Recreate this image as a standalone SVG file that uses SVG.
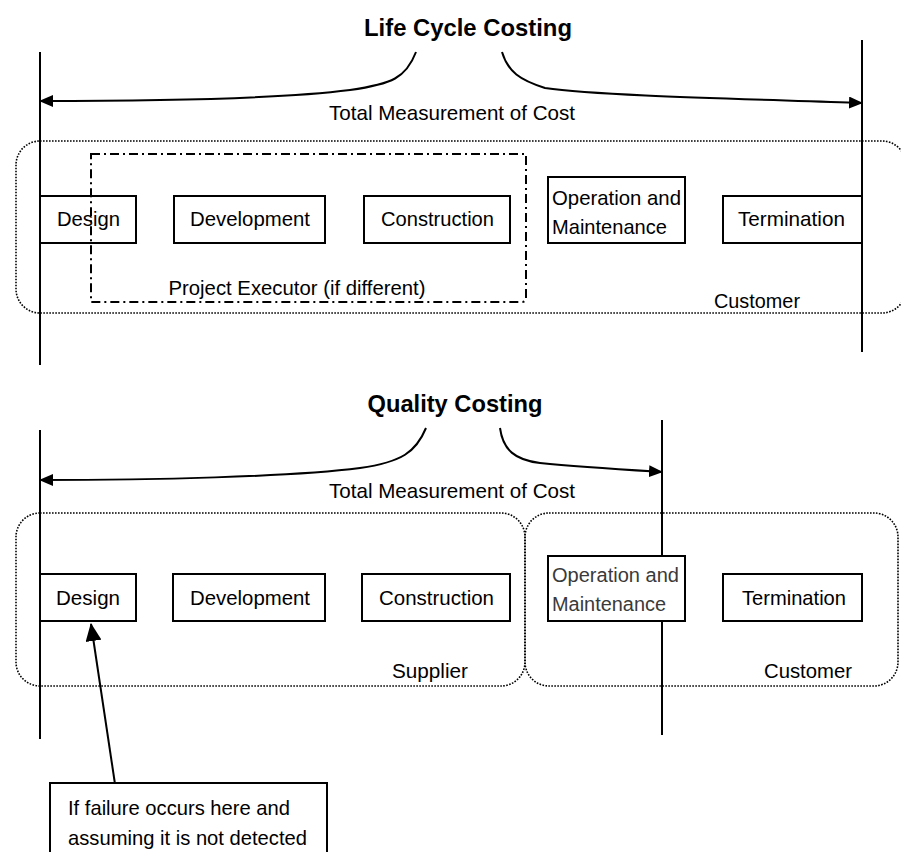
<svg xmlns="http://www.w3.org/2000/svg" width="901" height="852" viewBox="0 0 901 852">
<defs>
<marker id="ah" viewBox="0 0 14 12" refX="13" refY="6" markerWidth="14" markerHeight="12" markerUnits="userSpaceOnUse" orient="auto">
<path d="M0,0 L14,6 L0,12 z" fill="#000"/>
</marker>
<marker id="ah2" viewBox="0 0 18 16" refX="17" refY="8" markerWidth="18" markerHeight="16" markerUnits="userSpaceOnUse" orient="auto">
<path d="M0,0 L18,8 L0,16 z" fill="#000"/>
</marker>
</defs>
<style>
text{font-family:"Liberation Sans Narrow","Liberation Sans",Arial,sans-serif;fill:#000;}
.t{font-size:21px;}
.h{font-size:24px;font-weight:bold;}
.box{fill:#fff;stroke:#000;stroke-width:2;}
.dot{fill:none;stroke:#000;stroke-width:1.6;stroke-dasharray:1.6 1.4;}
.dd{fill:none;stroke:#000;stroke-width:2;stroke-dasharray:9 4 2 4;}
.ln{fill:none;stroke:#000;stroke-width:2;}
.gray{fill:#3a3a3a;font-family:"Liberation Sans",Arial,sans-serif;font-size:20px;}
</style>
<rect width="901" height="852" fill="#fff"/>

<!-- group containers -->
<g id="customer-lcc"><rect class="dot" x="16" y="141" width="890" height="172" rx="24"/>
<text class="t" x="757" y="308" text-anchor="middle" textLength="86" lengthAdjust="spacingAndGlyphs">Customer</text></g>
<g id="supplier-qc"><rect class="dot" x="16" y="513" width="509" height="173" rx="24"/>
<text class="t" x="430" y="678" text-anchor="middle" textLength="76" lengthAdjust="spacingAndGlyphs">Supplier</text></g>
<g id="customer-qc"><rect class="dot" x="525" y="513" width="373" height="173" rx="24"/>
<text class="t" x="808" y="678" text-anchor="middle" textLength="88" lengthAdjust="spacingAndGlyphs">Customer</text></g>

<g id="connectors">
<line class="ln" x1="40" y1="52" x2="40" y2="365"/>
<line class="ln" x1="862" y1="40" x2="862" y2="352"/>
<path class="ln" d="M416,52 C406,78 392,84 350,90 C280,99 150,101 40,101" marker-end="url(#ah)"/>
<path class="ln" d="M502,52 C508,72 520,80 545,88 C600,96 750,99 862,103" marker-end="url(#ah)"/>
<line class="ln" x1="40" y1="430" x2="40" y2="739"/>
<line class="ln" x1="662" y1="420" x2="662" y2="735"/>
<path class="ln" d="M426,428 C416,452 402,462 360,468 C290,477 150,480 40,480" marker-end="url(#ah)"/>
<path class="ln" d="M500,428 C503,450 515,460 540,463 C580,467 630,470 662,472" marker-end="url(#ah)"/>
<line class="ln" x1="115" y1="784" x2="91" y2="624" marker-end="url(#ah2)"/>
</g>

<g id="title-lcc"><text class="h" x="468" y="36" text-anchor="middle" textLength="208" lengthAdjust="spacingAndGlyphs">Life Cycle Costing</text></g>
<g id="label-total-1"><text class="t" x="452" y="120" text-anchor="middle" textLength="246" lengthAdjust="spacingAndGlyphs">Total Measurement of Cost</text></g>

<g id="design-1"><rect class="box" x="40" y="196" width="96" height="47"/>
<text class="t" x="88.5" y="226" text-anchor="middle" textLength="63" lengthAdjust="spacingAndGlyphs">Design</text></g>
<g id="development-1"><rect class="box" x="174" y="196" width="151" height="47"/>
<text class="t" x="250" y="226" text-anchor="middle" textLength="120" lengthAdjust="spacingAndGlyphs">Development</text></g>
<g id="construction-1"><rect class="box" x="364" y="196" width="146" height="47"/>
<text class="t" x="437.5" y="226" text-anchor="middle" textLength="113" lengthAdjust="spacingAndGlyphs">Construction</text></g>
<g id="operation-1"><rect class="box" x="548" y="177" width="137" height="66"/>
<text class="t" x="552" y="205" textLength="129" lengthAdjust="spacingAndGlyphs">Operation and</text>
<text class="t" x="552" y="234" textLength="115" lengthAdjust="spacingAndGlyphs">Maintenance</text></g>
<g id="termination-1"><rect class="box" x="723" y="196" width="139" height="47"/>
<text class="t" x="791.5" y="226" text-anchor="middle" textLength="107" lengthAdjust="spacingAndGlyphs">Termination</text></g>

<g id="project-executor"><path class="dd" d="M91,154 L526,154 L526,298 Q526,302 522,302 L91,302 Z"/>
<text class="t" x="297" y="295" text-anchor="middle" textLength="257" lengthAdjust="spacingAndGlyphs">Project Executor (if different)</text></g>

<g id="title-qc"><text class="h" x="455" y="412" text-anchor="middle" textLength="175" lengthAdjust="spacingAndGlyphs">Quality Costing</text></g>
<g id="label-total-2"><text class="t" x="452" y="498" text-anchor="middle" textLength="246" lengthAdjust="spacingAndGlyphs">Total Measurement of Cost</text></g>

<g id="design-2"><rect class="box" x="40" y="574" width="96" height="47"/>
<text class="t" x="88" y="605" text-anchor="middle" textLength="64" lengthAdjust="spacingAndGlyphs">Design</text></g>
<g id="development-2"><rect class="box" x="173" y="574" width="152" height="47"/>
<text class="t" x="250" y="605" text-anchor="middle" textLength="120" lengthAdjust="spacingAndGlyphs">Development</text></g>
<g id="construction-2"><rect class="box" x="362" y="574" width="148" height="47"/>
<text class="t" x="436.5" y="605" text-anchor="middle" textLength="115" lengthAdjust="spacingAndGlyphs">Construction</text></g>
<g id="operation-2"><rect class="box" x="548" y="556" width="137" height="65"/>
<text class="gray" x="552" y="582" textLength="127" lengthAdjust="spacingAndGlyphs">Operation and</text>
<text class="gray" x="552" y="611" textLength="114" lengthAdjust="spacingAndGlyphs">Maintenance</text></g>
<g id="termination-2"><rect class="box" x="723" y="574" width="139" height="47"/>
<text class="t" x="794" y="605" text-anchor="middle" textLength="104" lengthAdjust="spacingAndGlyphs">Termination</text></g>

<g id="callout"><rect class="box" x="50" y="783" width="277" height="80"/>
<text class="t" x="68" y="815" textLength="222" lengthAdjust="spacingAndGlyphs">If failure occurs here and</text>
<text class="t" x="68" y="845" textLength="239" lengthAdjust="spacingAndGlyphs">assuming it is not detected</text></g>
</svg>
